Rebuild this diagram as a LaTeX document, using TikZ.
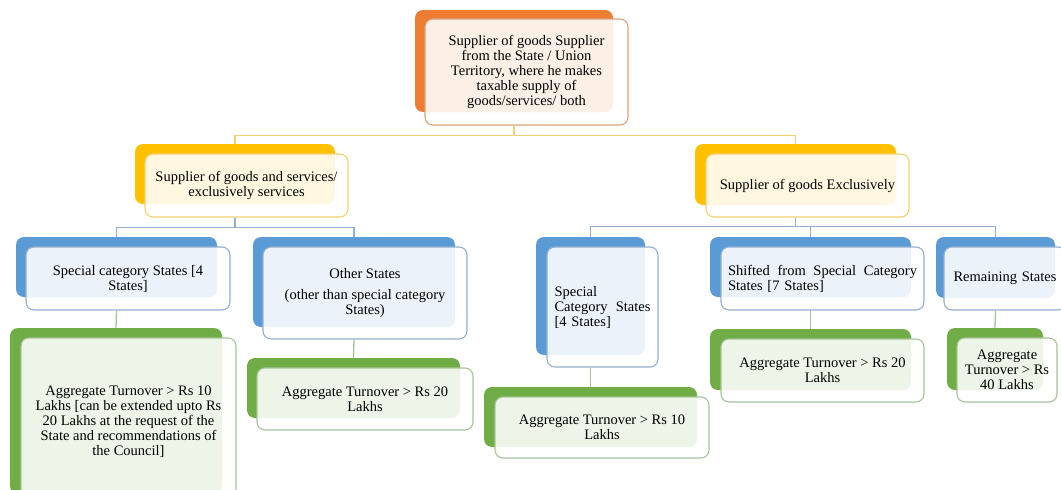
\documentclass[tikz,border=0pt]{standalone}
\usepackage{fontspec}
\setmainfont{Liberation Serif}
\usepackage{tikz}
\definecolor{orangeB}{HTML}{ED7D31}
\definecolor{orangeL}{HTML}{D9A47F}
\definecolor{goldB}{HTML}{FFC000}
\definecolor{goldL}{HTML}{F2D172}
\definecolor{blueB}{HTML}{5B9BD5}
\definecolor{blueL}{HTML}{93AFCF}
\definecolor{greenB}{HTML}{70AD47}
\definecolor{greenL}{HTML}{A8C498}
\tikzset{
  font={\fontsize{14.5pt}{15pt}\selectfont},
  backbox/.style={rounded corners=8pt, fill=#1},
  frontbox/.style={rounded corners=8pt, draw=#1, line width=1.1pt, fill=white,
    fill opacity=0.88, text opacity=1, align=center},
  link/.style={draw=#1, line width=1.3pt}}

\begin{document}
\begin{tikzpicture}[x=1pt,y=-1pt]
\tikzstyle{every node}+=[inner sep=0pt]
\useasboundingbox (0,0) rectangle (1061,490);
\clip (0,0) rectangle (1061,490);
\node [backbox=orangeB, minimum width=198pt, minimum height=102pt] (topb) at (514,61) {};
\node [frontbox=orangeL, minimum width=203pt, minimum height=106pt] (top) at (526.5,72) {Supplier of goods Supplier\\ from the State / Union\\ Territory, where he makes\\ taxable supply of\\ goods/services/ both};
\node [backbox=goldB, minimum width=200pt, minimum height=60pt] (ylb) at (235,174) {};
\node [frontbox=goldL, minimum width=203pt, minimum height=63pt] (yl) at (246.5,185.5) {Supplier of goods and services/\\ exclusively services};
\node [backbox=goldB, minimum width=201pt, minimum height=61pt] (yrb) at (795.5,174.5) {};
\node [frontbox=goldL, minimum width=203pt, minimum height=63pt] (yr) at (807.5,185.5) {Supplier of goods Exclusively};
\node [backbox=blueB, minimum width=201pt, minimum height=60pt] (bl1b) at (116.5,267) {};
\node [frontbox=blueL, minimum width=204pt, minimum height=63pt] (bl1) at (128,278.5) {Special category States [4\\ States]};
\node [backbox=blueB, minimum width=202pt, minimum height=90pt] (bl2b) at (354,282) {};
\node [frontbox=blueL, minimum width=204pt, minimum height=92pt] (bl2) at (365,293) {Other States\\[6pt] (other than special category\\ States)};
\node [backbox=blueB, minimum width=109pt, minimum height=118pt] (br1b) at (590.5,296) {};
\node [frontbox=blueL, minimum width=111pt, minimum height=120pt, text width=96pt, align=left] (br1) at (602.5,307) {Special\\ Category\hfill States\\ {[4 States]}};
\node [backbox=blueB, minimum width=201pt, minimum height=60pt] (br2b) at (810.5,267) {};
\node [frontbox=blueL, minimum width=203pt, minimum height=63pt, text width=189pt, align=left] (br2) at (822.5,278.5) {Shifted\hfill from\hfill Special\hfill Category\\ States [7 States]};
\node [backbox=blueB, minimum width=119pt, minimum height=61pt] (br3b) at (995.5,267.5) {};
\node [frontbox=blueL, minimum width=122pt, minimum height=63pt, text width=103pt, align=left] (br3) at (1005,278.5) {Remaining\hfill States};
\node [backbox=greenB, minimum width=212pt, minimum height=166pt] (gl1b) at (116,411) {};
\node [frontbox=greenL, minimum width=215pt, minimum height=168pt] (gl1) at (128.5,422) {Aggregate Turnover > Rs 10\\ Lakhs [can be extended upto Rs\\ 20 Lakhs at the request of the\\ State and recommendations of\\ the Council]};
\node [backbox=greenB, minimum width=213pt, minimum height=60pt] (gl2b) at (353.5,388) {};
\node [frontbox=greenL, minimum width=216pt, minimum height=62pt] (gl2) at (365,399) {Aggregate Turnover > Rs 20\\ Lakhs};
\node [backbox=greenB, minimum width=213pt, minimum height=60pt] (gr1b) at (590.5,417) {};
\node [frontbox=greenL, minimum width=214pt, minimum height=61pt] (gr1) at (602,427.5) {Aggregate Turnover > Rs 10\\ Lakhs};
\node [backbox=greenB, minimum width=201pt, minimum height=61pt] (gr2b) at (810.5,359.5) {};
\node [frontbox=greenL, minimum width=203pt, minimum height=63pt] (gr2) at (822.5,370.5) {Aggregate Turnover > Rs 20\\ Lakhs};
\node [backbox=greenB, minimum width=96pt, minimum height=62pt] (gr3b) at (995,359) {};
\node [frontbox=greenL, minimum width=100pt, minimum height=64pt] (gr3) at (1007,370) {Aggregate\\ Turnover > Rs\\ 40 Lakhs};
\draw [link=goldL] (topb.south |- top.south) -- ++(0,10) -| (ylb.north);
\draw [link=goldL] (topb.south |- top.south) -- ++(0,10) -| (yrb.north);
\draw [link=blueL] (ylb.south |- yl.south) -- ++(0,10) -| (bl1b.north);
\draw [link=blueL] (ylb.south |- yl.south) -- ++(0,10) -| (bl2b.north);
\draw [link=blueL] (yrb.south |- yr.south) -- ++(0,9) -| (br1b.north);
\draw [link=blueL] (yrb.south |- yr.south) -- ++(0,9) -| (br2b.north);
\draw [link=blueL] (yrb.south |- yr.south) -- ++(0,9) -| (br3b.north);
\draw [link=greenL] (bl1b.south |- bl1.south) -- (gl1b.north);
\draw [link=greenL] (bl2b.south |- bl2.south) -- (gl2b.north);
\draw [link=greenL] (br1b.south |- br1.south) -- (gr1b.north);
\draw [link=greenL] (br2b.south |- br2.south) -- (gr2b.north);
\draw [link=greenL] (br3b.south |- br3.south) -- (gr3b.north);
\end{tikzpicture}
\end{document}
